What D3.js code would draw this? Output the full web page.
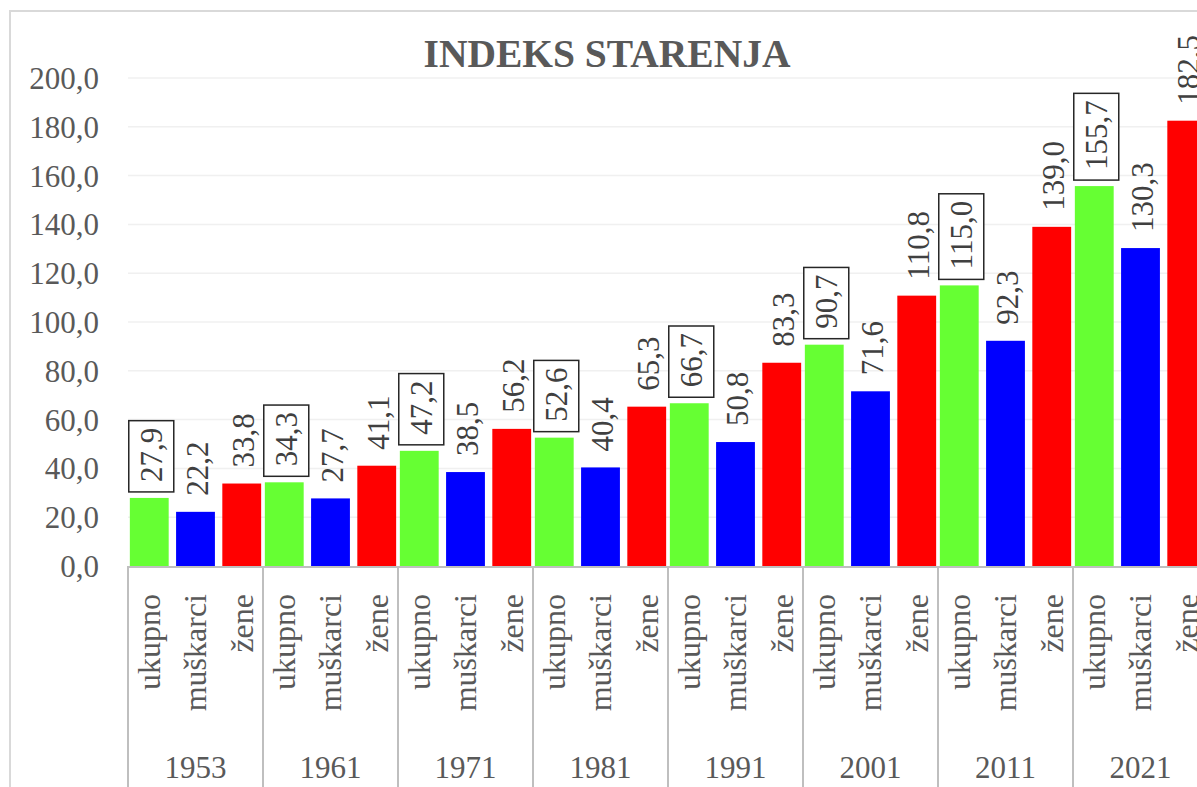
<!DOCTYPE html>
<html>
<head>
<meta charset="utf-8">
<script src="https://cdn.jsdelivr.net/npm/d3@7"></script>
<style>
  html, body { margin: 0; padding: 0; background: #fff; overflow: hidden; }
  svg { display: block; }
  svg text { font-family: "Liberation Serif", "Times New Roman", serif; }
</style>
</head>
<body>
<div id="chart"></div>
<script>
  // Indeks starenja po popisima
  const years = ["1953", "1961", "1971", "1981", "1991", "2001", "2011", "2021"];
  const series = ["ukupno", "muškarci", "žene"];
  const ukupno = [27.9, 34.3, 47.2, 52.6, 66.7, 90.7, 115.0, 155.7];
  const muskarci = [22.2, 27.7, 38.5, 40.4, 50.8, 71.6, 92.3, 130.3];
  const zene = [33.8, 41.1, 56.2, 65.3, 83.3, 110.8, 139.0, 182.5];
  const yTicks = [0, 20, 40, 60, 80, 100, 120, 140, 160, 180, 200];

  const SERIES_COLORS = { "ukupno": "#66ff33", "muškarci": "#0000ff", "žene": "#ff0000" };
  const valuesBySeries = { "ukupno": ukupno, "muškarci": muskarci, "žene": zene };
  const FONT = "'Liberation Serif', 'Times New Roman', serif";

  const W = 1197, H = 787;
  const plotLeft = 128, groupW = 135;
  const plotTop = 78, base = 566;

  const svg = d3.select("#chart").append("svg")
    .attr("width", W).attr("height", H);

  // chart area border (cut off right and bottom, as in the source)
  svg.append("rect")
    .attr("x", 10).attr("y", 11)
    .attr("width", W + 20).attr("height", H + 20)
    .attr("fill", "#fff")
    .attr("stroke", "#d9d9d9").attr("stroke-width", 2);

  const x0 = d3.scaleBand().domain(years).range([plotLeft, plotLeft + groupW * years.length]);
  const x1 = d3.scaleBand().domain(series).range([0, groupW]).paddingInner(0.16).paddingOuter(0.04);
  const y = d3.scaleLinear().domain([0, 200]).range([base, plotTop]);
  const fmt = (v) => d3.format(".1f")(v).replace(".", ",");

  // gridlines
  svg.append("g").selectAll("line")
    .data(yTicks.filter((t) => t > 0))
    .enter().append("line")
    .attr("x1", plotLeft).attr("x2", W)
    .attr("y1", (d) => y(d)).attr("y2", (d) => y(d))
    .attr("stroke", "#f0f0f0").attr("stroke-width", 1.5);

  // y labels
  svg.append("g").selectAll("text")
    .data(yTicks)
    .enter().append("text")
    .attr("x", 99).attr("y", (d) => y(d) + 11)
    .attr("text-anchor", "end")
    .attr("font-family", FONT)
    .attr("font-size", "31px")
    .attr("fill", "#595959")
    .text(fmt);

  // title
  svg.append("text")
    .attr("x", 607).attr("y", 67)
    .attr("text-anchor", "middle")
    .attr("font-family", FONT)
    .attr("font-size", "39.5px").attr("font-weight", "bold")
    .attr("fill", "#595959")
    .text("INDEKS STARENJA");

  const groups = svg.append("g").selectAll("g")
    .data(years)
    .enter().append("g")
    .attr("transform", (d) => `translate(${x0(d)},0)`);

  // bars
  groups.selectAll("rect")
    .data((d, i) => series.map((s) => ({ s, v: valuesBySeries[s][i] })))
    .enter().append("rect")
    .attr("x", (d) => x1(d.s))
    .attr("y", (d) => y(d.v))
    .attr("width", x1.bandwidth())
    .attr("height", (d) => base - y(d.v))
    .attr("fill", (d) => SERIES_COLORS[d.s]);

  // value labels (ukupno boxed)
  groups.each(function (yr, i) {
    const g = d3.select(this);
    series.forEach((s) => {
      const v = valuesBySeries[s][i];
      const cx = x1(s) + x1.bandwidth() / 2 + 2;
      const ty = y(v) - 16;
      const t = g.append("text")
        .attr("transform", `translate(${cx},${ty}) rotate(-90)`)
        .attr("dy", "0.34em")
        .attr("font-family", FONT)
        .attr("font-size", "31px")
        .attr("fill", "#404040")
        .text(fmt(v));
      if (s === "ukupno") {
        const len = t.node().getComputedTextLength();
        g.insert("rect", "text")
          .attr("x", cx - 22.5).attr("y", ty - len - 7)
          .attr("width", 45).attr("height", len + 17)
          .attr("fill", "#fff")
          .attr("stroke", "#262626").attr("stroke-width", 1.5);
      }
    });
  });

  // category labels
  groups.selectAll("text.cat")
    .data(series)
    .enter().append("text")
    .attr("class", "cat")
    .attr("transform", (d) => `translate(${x1(d) + x1.bandwidth() / 2},594) rotate(-90)`)
    .attr("dy", "0.34em")
    .attr("text-anchor", "end")
    .attr("font-family", FONT)
    .attr("font-size", "32px")
    .attr("fill", "#595959")
    .text((d) => d);

  // year labels
  groups.append("text")
    .attr("x", groupW / 2).attr("y", 778)
    .attr("text-anchor", "middle")
    .attr("font-family", FONT)
    .attr("font-size", "31px")
    .attr("fill", "#595959")
    .text((d) => d);

  // axis line and group separators
  svg.append("line")
    .attr("x1", plotLeft).attr("x2", W)
    .attr("y1", base + 1).attr("y2", base + 1)
    .attr("stroke", "#bfbfbf").attr("stroke-width", 2);
  svg.append("g").selectAll("line")
    .data(years)
    .enter().append("line")
    .attr("x1", (d) => x0(d)).attr("x2", (d) => x0(d))
    .attr("y1", base).attr("y2", H)
    .attr("stroke", "#bfbfbf").attr("stroke-width", 2);
</script>
</body>
</html>
